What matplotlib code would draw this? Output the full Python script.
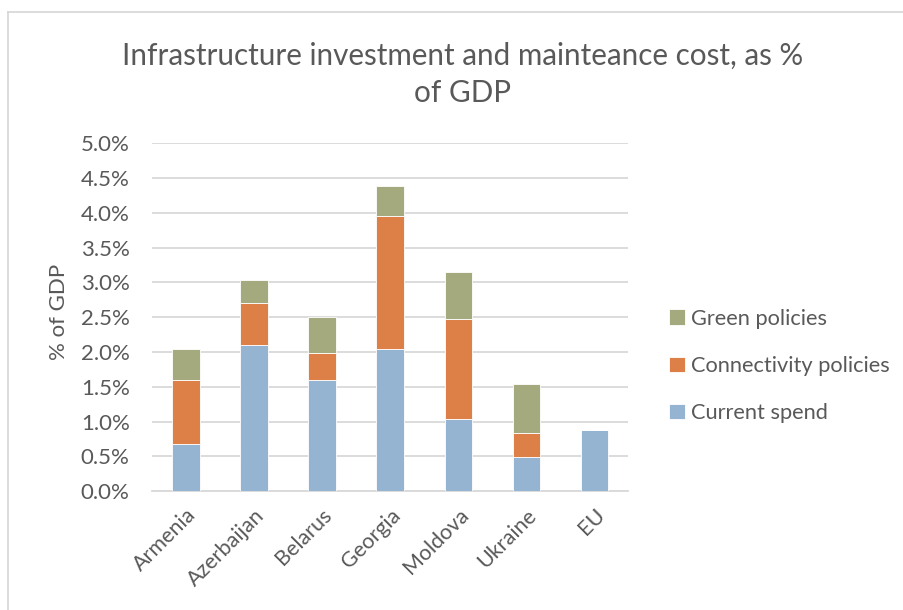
import matplotlib.pyplot as plt
import numpy as np
from matplotlib.lines import Line2D
from matplotlib.ticker import FuncFormatter

# --- data ---
countries = ["Armenia", "Azerbaijan", "Belarus", "Georgia", "Moldova", "Ukraine", "EU"]
current_spend = [0.67, 2.10, 1.60, 2.04, 1.04, 0.49, 0.88]
connectivity = [0.92, 0.60, 0.38, 1.92, 1.44, 0.34, 0.0]
green = [0.45, 0.34, 0.52, 0.43, 0.67, 0.71, 0.0]

C_BLUE = "#94B4D2"
C_ORANGE = "#DD8048"
C_GREEN = "#A5A97E"
TXT = "#595959"
GRID = "#D9D9D9"

plt.rcParams["font.family"] = ["Lato", "DejaVu Sans"]

fig = plt.figure(figsize=(9.04, 6.10), dpi=100)
ax = fig.add_axes([0.168, 0.195, 0.527, 0.570])

x = np.arange(len(countries))
cur = np.array(current_spend)
con = np.array(connectivity)
grn = np.array(green)
w = 0.4

b1 = ax.bar(x, cur, w, color=C_BLUE, edgecolor="white", linewidth=0.6, label="Current spend", zorder=3)
b2 = ax.bar(x, con, w, bottom=cur, color=C_ORANGE, edgecolor="white", linewidth=0.6,
            label="Connectivity policies", zorder=3)
b3 = ax.bar(x, grn, w, bottom=cur + con, color=C_GREEN, edgecolor="white", linewidth=0.6,
            label="Green policies", zorder=3)

ax.set_ylim(0, 5.0)
ax.set_xlim(-0.5, len(countries) - 0.5)
ax.set_yticks(np.arange(0, 5.01, 0.5))
ax.yaxis.set_major_formatter(FuncFormatter(lambda v, p: f"{v:.1f}%"))
ax.grid(axis="y", color=GRID, linewidth=1.3, zorder=0)
ax.set_axisbelow(True)
for s in ["top", "right", "left"]:
    ax.spines[s].set_visible(False)
ax.spines["bottom"].set_color(GRID)
ax.spines["bottom"].set_linewidth(1.3)
ax.tick_params(axis="both", length=0, colors=TXT)
ax.tick_params(axis="y", labelsize=16, pad=16)
ax.set_xticks(x)
ax.set_xticklabels(countries, rotation=45, ha="right", rotation_mode="anchor", fontsize=15.5)
ax.tick_params(axis="x", pad=10)

ax.set_ylabel("% of GDP", color=TXT, fontsize=16)
ax.yaxis.set_label_coords(-0.173, 0.515)

fig.text(0.512, 0.878, "Infrastructure investment and mainteance cost, as %\nof GDP",
         ha="center", va="center", color=TXT, fontsize=21.3, linespacing=1.4)

leg = ax.legend(handles=[b3, b2, b1], loc="center left", bbox_to_anchor=(1.045, 0.36),
                frameon=False, fontsize=15.7, handlelength=0.7, handleheight=0.7,
                handletextpad=0.3, labelspacing=1.25)
for t in leg.get_texts():
    t.set_color(TXT)

# chart border (only top and left edges show in the reference)
fig.add_artist(Line2D([8 / 904, 1.0], [1 - 12 / 610, 1 - 12 / 610], transform=fig.transFigure,
                      color=GRID, linewidth=1.3))
fig.add_artist(Line2D([8 / 904, 8 / 904], [0.0, 1 - 12 / 610], transform=fig.transFigure,
                      color=GRID, linewidth=1.3))

fig.savefig("out.png", dpi=100)
